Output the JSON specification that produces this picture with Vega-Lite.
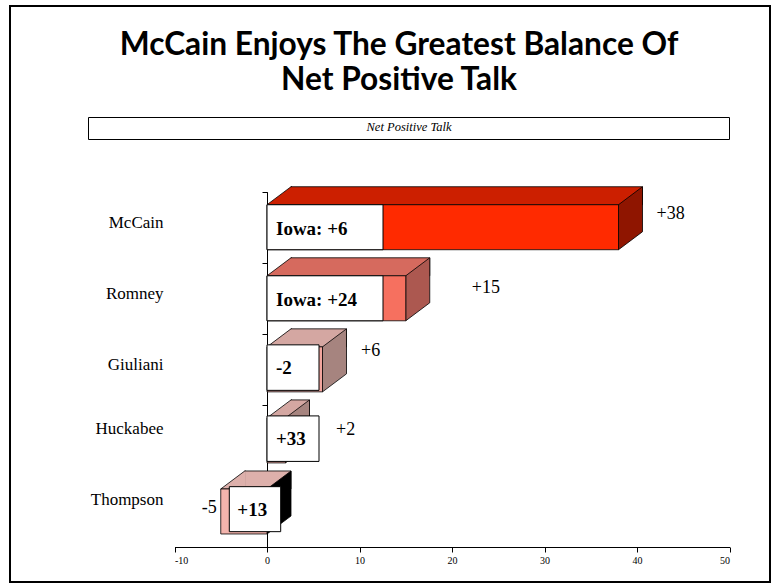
{
  "$schema": "https://vega.github.io/schema/vega-lite/v6.json",
  "width": 760,
  "height": 576,
  "autosize": "none",
  "padding": {"left": 10, "top": 6, "right": 11, "bottom": 3},
  "background": "white",
  "config": {
    "view": {"stroke": "black", "strokeWidth": 2},
    "font": "Liberation Serif",
    "locale": {"number": {"decimal": ".", "thousands": ",", "grouping": [3], "currency": ["$", ""], "minus": "-"}}
  },
  "title": {
    "text": ["McCain Enjoys The Greatest Balance Of", "Net Positive Talk"],
    "font": "Lato",
    "fontSize": 31.7,
    "fontWeight": "bold",
    "color": "black",
    "anchor": "middle",
    "frame": "group",
    "baseline": "bottom",
    "offset": -132,
    "dx": 9,
    "lineHeight": 35
  },
  "data": {
    "values": [
      {"name": "McCain", "value": 38, "note": "Iowa: +6", "series": "Net Positive Talk"},
      {"name": "Romney", "value": 15, "note": "Iowa: +24", "series": "Net Positive Talk"},
      {"name": "Giuliani", "value": 6, "note": "-2", "series": "Net Positive Talk"},
      {"name": "Huckabee", "value": 2, "note": "+33", "series": "Net Positive Talk"},
      {"name": "Thompson", "value": -5, "note": "+13", "series": "Net Positive Talk"}
    ]
  },
  "resolve": {"scale": {"fill": "independent"}},
  "layer": [
    {
      "mark": {"type": "bar", "size": 18, "yOffset": -31.5, "xOffset": 24, "x2Offset": 24, "stroke": "black", "strokeWidth": 0.8},
      "encoding": {
        "x": {"field": "value", "type": "quantitative", "title": null,
          "scale": {"domain": [-10, 50], "range": [164.5, 719.5], "nice": false, "zero": false},
          "axis": {"values": [-10, 0, 10, 20, 30, 40, 50], "format": "d", "offset": -35, "domainColor": "black", "domainWidth": 1, "tickColor": "black", "tickSize": 5, "labelFont": "Liberation Serif", "labelFontSize": 10, "labelColor": "black", "labelPadding": 3, "grid": false}},
        "x2": {"datum": 0},
        "y": {"field": "name", "type": "nominal", "sort": null, "title": null,
          "scale": {"domain": ["McCain", "Romney", "Giuliani", "Huckabee", "Thompson"], "range": [185.7, 541], "paddingInner": 0, "paddingOuter": 0},
          "axis": {"offset": -257, "domainColor": "black", "domainWidth": 1, "tickColor": "black", "tickSize": 5, "tickBand": "extent", "labelFont": "Liberation Serif", "labelFontSize": 17, "labelColor": "black", "labelPadding": 99, "grid": false,
            "labelOffset": {"condition": {"test": "datum.value === 'Huckabee' || datum.value === 'Thompson'", "value": -12}, "value": -4.5}}},
        "fill": {"field": "name", "type": "nominal", "legend": null,
          "scale": {"domain": ["McCain", "Romney", "Giuliani", "Huckabee", "Thompson"], "range": ["#CC1F00", "#D66A5E", "#D4A7A2", "#D4A7A2", "#DDB0AB"]}}
      }
    },
    {
      "transform": [{"filter": "datum.value >= 0"}],
      "mark": {"type": "point", "shape": "M25,-22.5L0,-22.5L24,-40.5L25,-40.5", "size": 4, "filled": true, "opacity": 1, "stroke": "black", "strokeWidth": 0.8},
      "encoding": {
        "x": {"datum": 0, "type": "quantitative", "scale": {"domain": [-10, 50], "range": [164.5, 719.5], "nice": false, "zero": false}},
        "y": {"field": "name", "type": "nominal", "sort": null, "title": null},
        "fill": {"field": "name", "type": "nominal", "legend": null,
          "scale": {"domain": ["McCain", "Romney", "Giuliani", "Huckabee", "Thompson"], "range": ["#CC1F00", "#D66A5E", "#D4A7A2", "#D4A7A2", "#DDB0AB"]}}
      }
    },
    {
      "transform": [{"filter": "datum.value < 0"}],
      "mark": {"type": "point", "shape": "M25,-22.5L0,-22.5L24,-40.5L25,-40.5", "size": 4, "filled": true, "opacity": 1, "stroke": "black", "strokeWidth": 0.8},
      "encoding": {
        "x": {"field": "value", "type": "quantitative", "title": null, "scale": {"domain": [-10, 50], "range": [164.5, 719.5], "nice": false, "zero": false}},
        "y": {"field": "name", "type": "nominal", "sort": null, "title": null},
        "fill": {"field": "name", "type": "nominal", "legend": null,
          "scale": {"domain": ["McCain", "Romney", "Giuliani", "Huckabee", "Thompson"], "range": ["#CC1F00", "#D66A5E", "#D4A7A2", "#D4A7A2", "#DDB0AB"]}}
      }
    },
    {
      "transform": [{"filter": "datum.value >= 0"}],
      "mark": {"type": "point", "shape": "M0,-22.5L24,-40.5L24,4.5L0,22.5Z", "size": 4, "filled": true, "opacity": 1, "stroke": "black", "strokeWidth": 0.8},
      "encoding": {
        "x": {"field": "value", "type": "quantitative", "title": null, "scale": {"domain": [-10, 50], "range": [164.5, 719.5], "nice": false, "zero": false}},
        "y": {"field": "name", "type": "nominal", "sort": null, "title": null},
        "fill": {"field": "name", "type": "nominal", "legend": null,
          "scale": {"domain": ["McCain", "Romney", "Giuliani", "Huckabee", "Thompson"], "range": ["#8F1500", "#AC5850", "#A6847F", "#A6847F", "#000000"]}}
      }
    },
    {
      "transform": [{"filter": "datum.value < 0"}],
      "mark": {"type": "point", "shape": "M0,-22.5L24,-40.5L24,4.5L0,22.5Z", "size": 4, "filled": true, "opacity": 1, "stroke": "black", "strokeWidth": 0.8},
      "encoding": {
        "x": {"datum": 0, "type": "quantitative", "scale": {"domain": [-10, 50], "range": [164.5, 719.5], "nice": false, "zero": false}},
        "y": {"field": "name", "type": "nominal", "sort": null, "title": null},
        "fill": {"field": "name", "type": "nominal", "legend": null,
          "scale": {"domain": ["McCain", "Romney", "Giuliani", "Huckabee", "Thompson"], "range": ["#8F1500", "#AC5850", "#A6847F", "#A6847F", "#000000"]}}
      }
    },
    {
      "mark": {"type": "bar", "size": 45, "strokeWidth": 0.8},
      "encoding": {
        "x": {"field": "value", "type": "quantitative", "title": null, "scale": {"domain": [-10, 50], "range": [164.5, 719.5], "nice": false, "zero": false}},
        "x2": {"datum": 0},
        "y": {"field": "name", "type": "nominal", "sort": null, "title": null},
        "fill": {"field": "name", "type": "nominal", "legend": null,
          "scale": {"domain": ["McCain", "Romney", "Giuliani", "Huckabee", "Thompson"], "range": ["#FF2A00", "#F6705F", "#F2A59E", "#F2ABA4", "#F3B4AD"]}},
        "stroke": {"field": "series", "type": "nominal", "scale": {"range": ["black"]},
          "legend": {"orient": "none", "legendX": 78, "legendY": 111, "title": "Net Positive Talk",
            "titleFont": "Liberation Serif", "titleFontStyle": "italic", "titleFontWeight": "normal", "titleFontSize": 12.5, "titleColor": "black", "titleAnchor": "middle", "titlePadding": 0,
            "strokeColor": "black", "fillColor": "white", "padding": 4, "clipHeight": 1,
            "symbolType": "square", "symbolSize": 1, "symbolOpacity": 0, "symbolStrokeWidth": 0,
            "labelOffset": 632, "labelExpr": "''", "labelFontSize": 1}}
      }
    },
    {
      "transform": [{"filter": {"field": "name", "oneOf": ["McCain", "Romney"]}}],
      "mark": {"type": "point", "shape": "M0,-22.5H116V22.5H0Z", "size": 4, "filled": true, "opacity": 1, "fill": "white", "stroke": "black", "strokeWidth": 1},
      "encoding": {
        "x": {"datum": 0, "type": "quantitative", "scale": {"domain": [-10, 50], "range": [164.5, 719.5], "nice": false, "zero": false}},
        "y": {"field": "name", "type": "nominal", "sort": null, "title": null}
      }
    },
    {
      "transform": [{"filter": {"field": "name", "oneOf": ["Giuliani", "Huckabee"]}}],
      "mark": {"type": "point", "shape": "M0,-24.5H52V21H0Z", "size": 4, "filled": true, "opacity": 1, "fill": "white", "stroke": "black", "strokeWidth": 1},
      "encoding": {
        "x": {"datum": 0, "type": "quantitative", "scale": {"domain": [-10, 50], "range": [164.5, 719.5], "nice": false, "zero": false}},
        "y": {"field": "name", "type": "nominal", "sort": null, "title": null}
      }
    },
    {
      "transform": [{"filter": "datum.value < 0"}],
      "mark": {"type": "point", "shape": "M-37.7,-24.8H13.7V20.2H-37.7Z", "size": 4, "filled": true, "opacity": 1, "fill": "white", "stroke": "black", "strokeWidth": 1},
      "encoding": {
        "x": {"datum": 0, "type": "quantitative", "scale": {"domain": [-10, 50], "range": [164.5, 719.5], "nice": false, "zero": false}},
        "y": {"field": "name", "type": "nominal", "sort": null, "title": null}
      }
    },
    {
      "transform": [{"filter": {"field": "name", "oneOf": ["McCain", "Romney"]}}],
      "mark": {"type": "text", "align": "left", "baseline": "alphabetic", "dx": 9, "dy": 7.8, "font": "Liberation Serif", "fontWeight": "bold", "fontSize": 19, "color": "black"},
      "encoding": {
        "x": {"datum": 0, "type": "quantitative", "scale": {"domain": [-10, 50], "range": [164.5, 719.5], "nice": false, "zero": false}},
        "y": {"field": "name", "type": "nominal", "sort": null, "title": null},
        "text": {"field": "note"}
      }
    },
    {
      "transform": [{"filter": {"field": "name", "oneOf": ["Giuliani", "Huckabee"]}}],
      "mark": {"type": "text", "align": "left", "baseline": "alphabetic", "dx": 9, "dy": 5, "font": "Liberation Serif", "fontWeight": "bold", "fontSize": 19, "color": "black"},
      "encoding": {
        "x": {"datum": 0, "type": "quantitative", "scale": {"domain": [-10, 50], "range": [164.5, 719.5], "nice": false, "zero": false}},
        "y": {"field": "name", "type": "nominal", "sort": null, "title": null},
        "text": {"field": "note"}
      }
    },
    {
      "transform": [{"filter": "datum.value < 0"}],
      "mark": {"type": "text", "align": "left", "baseline": "alphabetic", "dx": -29.7, "dy": 4.5, "font": "Liberation Serif", "fontWeight": "bold", "fontSize": 19, "color": "black"},
      "encoding": {
        "x": {"datum": 0, "type": "quantitative", "scale": {"domain": [-10, 50], "range": [164.5, 719.5], "nice": false, "zero": false}},
        "y": {"field": "name", "type": "nominal", "sort": null, "title": null},
        "text": {"field": "note"}
      }
    },
    {
      "transform": [{"filter": {"field": "name", "equal": "McCain"}}],
      "mark": {"type": "text", "align": "left", "baseline": "middle", "dx": 38, "dy": -13.4, "font": "Liberation Serif", "fontSize": 18, "color": "black"},
      "encoding": {
        "x": {"field": "value", "type": "quantitative", "title": null, "scale": {"domain": [-10, 50], "range": [164.5, 719.5], "nice": false, "zero": false}},
        "y": {"field": "name", "type": "nominal", "sort": null, "title": null},
        "text": {"field": "value", "format": "+d"}
      }
    },
    {
      "transform": [{"filter": {"field": "name", "equal": "Romney"}}],
      "mark": {"type": "text", "align": "left", "baseline": "middle", "dx": 66, "dy": -10, "font": "Liberation Serif", "fontSize": 18, "color": "black"},
      "encoding": {
        "x": {"field": "value", "type": "quantitative", "title": null, "scale": {"domain": [-10, 50], "range": [164.5, 719.5], "nice": false, "zero": false}},
        "y": {"field": "name", "type": "nominal", "sort": null, "title": null},
        "text": {"field": "value", "format": "+d"}
      }
    },
    {
      "transform": [{"filter": {"field": "name", "equal": "Giuliani"}}],
      "mark": {"type": "text", "align": "left", "baseline": "middle", "dx": 38.5, "dy": -18.5, "font": "Liberation Serif", "fontSize": 18, "color": "black"},
      "encoding": {
        "x": {"field": "value", "type": "quantitative", "title": null, "scale": {"domain": [-10, 50], "range": [164.5, 719.5], "nice": false, "zero": false}},
        "y": {"field": "name", "type": "nominal", "sort": null, "title": null},
        "text": {"field": "value", "format": "+d"}
      }
    },
    {
      "transform": [{"filter": {"field": "name", "equal": "Huckabee"}}],
      "mark": {"type": "text", "align": "left", "baseline": "middle", "dx": 50.5, "dy": -10.5, "font": "Liberation Serif", "fontSize": 18, "color": "black"},
      "encoding": {
        "x": {"field": "value", "type": "quantitative", "title": null, "scale": {"domain": [-10, 50], "range": [164.5, 719.5], "nice": false, "zero": false}},
        "y": {"field": "name", "type": "nominal", "sort": null, "title": null},
        "text": {"field": "value", "format": "+d"}
      }
    },
    {
      "transform": [{"filter": {"field": "name", "equal": "Thompson"}}],
      "mark": {"type": "text", "align": "right", "baseline": "middle", "dx": -4, "dy": -3.5, "font": "Liberation Serif", "fontSize": 18, "color": "black"},
      "encoding": {
        "x": {"field": "value", "type": "quantitative", "title": null, "scale": {"domain": [-10, 50], "range": [164.5, 719.5], "nice": false, "zero": false}},
        "y": {"field": "name", "type": "nominal", "sort": null, "title": null},
        "text": {"field": "value", "format": "+d"}
      }
    }
  ]
}
